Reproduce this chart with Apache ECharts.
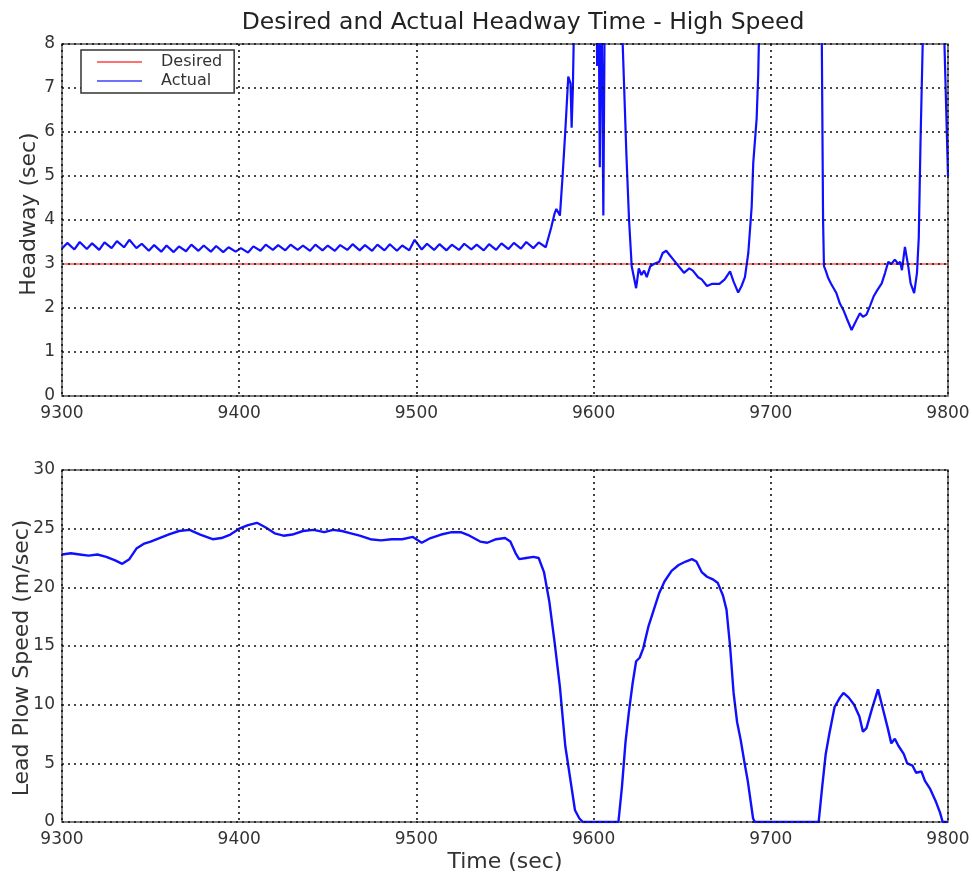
<!DOCTYPE html>
<html>
<head>
<meta charset="utf-8">
<title>Desired and Actual Headway Time - High Speed</title>
<script src="https://cdn.jsdelivr.net/npm/echarts@6/dist/echarts.min.js"></script>
<style>
  html, body { margin: 0; padding: 0; background: #fff; }
  #chart { width: 972px; height: 877px; }
</style>
</head>
<body>
<div id="chart"></div>
<script>
// time axis ticks (sec)
const timeTicks = [9300, 9400, 9500, 9600, 9700, 9800];

// desired headway (sec)
const desiredHeadway = [[9300, 3], [9800, 3]];

// actual headway [time, sec]; values above 8 run off the top of the plot
const actualHeadway = [
  [9300, 3.35], [9303, 3.48], [9307, 3.33], [9310, 3.50], [9314, 3.34], [9317, 3.47], [9321, 3.32], [9324, 3.49],
  [9328, 3.36], [9331, 3.52], [9335, 3.38], [9338, 3.55], [9342, 3.36], [9345, 3.46], [9349, 3.30], [9352, 3.43],
  [9356, 3.28], [9359, 3.42], [9363, 3.27], [9366, 3.40], [9370, 3.29], [9373, 3.44], [9377, 3.30], [9380, 3.42],
  [9384, 3.28], [9387, 3.41], [9391, 3.27], [9394, 3.38], [9398, 3.28], [9401, 3.36], [9405, 3.26], [9408, 3.40],
  [9412, 3.30], [9415, 3.44], [9419, 3.32], [9422, 3.43], [9426, 3.31], [9429, 3.44], [9433, 3.32], [9436, 3.42],
  [9440, 3.30], [9443, 3.44], [9447, 3.31], [9450, 3.42], [9454, 3.30], [9457, 3.43], [9461, 3.32], [9464, 3.45],
  [9468, 3.31], [9471, 3.43], [9475, 3.30], [9478, 3.44], [9482, 3.31], [9485, 3.45], [9489, 3.30], [9492, 3.42],
  [9496, 3.31], [9499, 3.55], [9503, 3.33], [9506, 3.46], [9510, 3.32], [9513, 3.45], [9517, 3.31], [9520, 3.44],
  [9524, 3.32], [9527, 3.46], [9531, 3.33], [9534, 3.44], [9538, 3.31], [9541, 3.45], [9545, 3.32], [9548, 3.47],
  [9552, 3.34], [9555, 3.48], [9559, 3.35], [9562, 3.50], [9566, 3.36], [9569, 3.49], [9573, 3.38],
  [9576, 3.82], [9578, 4.15], [9579, 4.25], [9581, 4.1], [9582.5, 5.0], [9584, 6.0], [9585.7, 7.26], [9587, 7.1],
  [9587.6, 6.1], [9588.3, 7.0], [9589, 8.6], [9590, 12], [9601, 12], [9602, 7.5], [9602.7, 10], [9603.5, 5.2],
  [9604.3, 10], [9605.5, 4.1], [9606.3, 9], [9607, 12], [9615, 12], [9616, 8.5], [9617, 7.3], [9618.5, 5.5],
  [9620, 4.0], [9621.5, 2.95], [9624, 2.45], [9625.5, 2.9], [9627, 2.75], [9628.5, 2.85], [9630, 2.7], [9632, 2.95],
  [9634, 3.0], [9637, 3.05], [9639, 3.25], [9641, 3.3], [9643, 3.2], [9645, 3.1], [9648, 2.95], [9651, 2.8],
  [9654, 2.9], [9656, 2.85], [9659, 2.7], [9661, 2.65], [9664, 2.5], [9667, 2.55], [9671, 2.55], [9674, 2.65],
  [9677, 2.83], [9679, 2.6], [9681.6, 2.35], [9683.5, 2.5], [9685.4, 2.7], [9687.3, 3.25], [9689.2, 4.3],
  [9690.1, 5.3], [9692, 6.3], [9692.9, 7.3], [9693.5, 8.5], [9694.5, 12], [9728, 12], [9728.8, 8], [9729.5, 4],
  [9730, 2.95], [9731, 2.85], [9732.4, 2.68], [9734, 2.55], [9737, 2.34], [9739, 2.1], [9741, 1.95], [9743, 1.75],
  [9745.6, 1.5], [9748, 1.7], [9750.3, 1.88], [9752, 1.8], [9754, 1.85], [9756, 2.05], [9758, 2.26], [9760, 2.4],
  [9762.6, 2.56], [9764.5, 2.8], [9766.3, 3.05], [9768, 3.0], [9770, 3.1], [9772, 3.0], [9773, 3.05], [9774, 2.86],
  [9775.7, 3.39], [9777.6, 2.94], [9778.9, 2.56], [9780.9, 2.34], [9782.5, 2.8], [9783.5, 3.6], [9784.5, 5.8],
  [9786, 8.5], [9787, 12], [9797, 12], [9798, 8], [9800, 5.0]
];

// lead plow speed [time, m/sec]
const leadPlowSpeed = [
  [9300, 22.8], [9305, 22.9], [9310, 22.8], [9315, 22.7], [9320, 22.8], [9325, 22.6], [9330, 22.3], [9334, 22.0],
  [9338, 22.4], [9342, 23.3], [9346, 23.7], [9350, 23.9], [9355, 24.2], [9360, 24.5], [9366, 24.8], [9372, 24.9],
  [9378, 24.5], [9385, 24.1], [9390, 24.2], [9395, 24.5], [9400, 25.0], [9405, 25.3], [9410, 25.5], [9415, 25.1],
  [9420, 24.6], [9425, 24.4], [9430, 24.5], [9436, 24.8], [9442, 24.9], [9448, 24.7], [9453, 24.9], [9458, 24.8],
  [9463, 24.6], [9468, 24.4], [9474, 24.1], [9480, 24.0], [9486, 24.1], [9492, 24.1], [9498, 24.3], [9503, 23.8],
  [9508, 24.2], [9514, 24.5], [9520, 24.7], [9525, 24.7], [9530, 24.4], [9536, 23.9], [9540, 23.8], [9545, 24.1],
  [9550, 24.2], [9553, 23.9], [9556, 22.9], [9558, 22.4], [9562, 22.5], [9566, 22.6], [9569, 22.5], [9572, 21.3],
  [9575, 18.8], [9578, 15.3], [9581, 11.5], [9584, 6.5], [9587, 3.5], [9589.5, 1.0], [9592, 0.3], [9594, 0],
  [9614, 0], [9616, 3.0], [9618, 6.8], [9620, 9.5], [9622, 11.8], [9624, 13.7], [9626, 14.0], [9628, 14.8],
  [9631, 16.7], [9634, 18.1], [9637, 19.5], [9640, 20.5], [9644, 21.4], [9648, 21.9], [9652, 22.2], [9655.5, 22.4],
  [9658, 22.2], [9661, 21.3], [9664, 20.9], [9667, 20.7], [9670, 20.4], [9673, 19.3], [9675, 18.1], [9677, 15],
  [9679, 11], [9681, 8.5], [9683, 7.0], [9685, 5.2], [9687, 3.5], [9690, 0.3], [9691, 0], [9727, 0],
  [9729, 3], [9731, 5.8], [9733, 7.5], [9736, 9.8], [9739, 10.6], [9741, 11.0], [9744, 10.6], [9747, 10.0],
  [9750, 9.0], [9752, 7.7], [9754, 8.0], [9757, 9.6], [9760.5, 11.3], [9763, 9.8], [9766, 8.0], [9768, 6.7],
  [9770, 7.1], [9772, 6.5], [9775, 5.8], [9777, 5.0], [9780, 4.8], [9782, 4.2], [9785, 4.3], [9787, 3.5],
  [9790, 2.8], [9793, 1.8], [9795.5, 0.8], [9797, 0], [9800, 0]
];

(function () {
  const FONT = 'DejaVu Sans';
  const GRID_LINE = { show: true, lineStyle: { color: '#111', width: 1.6, type: [2, 4] } };
  const plain = v => String(v);

  function timeAxis(gridIndex, named) {
    return {
      type: 'value', gridIndex,
      min: timeTicks[0], max: timeTicks[timeTicks.length - 1], interval: 100,
      z: 10,
      axisLine: { show: false }, axisTick: { show: false },
      axisLabel: { color: '#333', fontFamily: FONT, fontSize: 17, margin: 9, formatter: plain },
      splitLine: GRID_LINE,
      name: named ? 'Time (sec)' : '', nameLocation: 'middle', nameGap: 29,
      nameTextStyle: { color: '#333', fontFamily: FONT, fontSize: 22 }
    };
  }

  // pad nudges the rotated name along the axis
  function valueAxis(gridIndex, max, interval, name, gap, pad) {
    return {
      type: 'value', gridIndex, min: 0, max, interval,
      z: 10,
      axisLine: { show: false }, axisTick: { show: false },
      axisLabel: { color: '#333', fontFamily: FONT, fontSize: 17, margin: 7, formatter: plain },
      splitLine: GRID_LINE,
      name, nameLocation: 'middle', nameGap: gap, nameMoveOverlap: false,
      nameTextStyle: { color: '#333', fontFamily: FONT, fontSize: 22, padding: pad }
    };
  }

  const gridBase = {
    left: 62, right: 24, height: 352, show: true,
    borderColor: '#555', borderWidth: 1.5, backgroundColor: 'transparent',
    containLabel: false, outerBoundsMode: 'none'
  };

  const chart = echarts.init(document.getElementById('chart'));
  chart.setOption({
    animation: false,
    backgroundColor: '#fff',
    title: {
      text: 'Desired and Actual Headway Time - High Speed',
      left: 518, top: 6, textAlign: 'center',
      textStyle: { color: '#222', fontFamily: FONT, fontSize: 23.5, fontWeight: 'normal' }
    },
    legend: {
      orient: 'vertical', left: 81, top: 50,
      data: [
        { name: 'Desired', itemStyle: { color: '#ff7070' } },
        { name: 'Actual', itemStyle: { color: '#7070ff' } }
      ],
      icon: 'rect', itemWidth: 45, itemHeight: 2, itemGap: 3,
      padding: [4, 12, 4, 16],
      backgroundColor: '#fff', borderColor: '#333', borderWidth: 1.5, borderRadius: 0,
      textStyle: { color: '#333', fontFamily: FONT, fontSize: 16, padding: [0, 0, 0, 14] },
      z: 20
    },
    grid: [
      Object.assign({}, gridBase, { top: 44 }),
      Object.assign({}, gridBase, { top: 470 })
    ],
    xAxis: [timeAxis(0, false), timeAxis(1, true)],
    yAxis: [
      valueAxis(0, 8, 1, 'Headway (sec)', 22, [0, 0, 0, 12]),
      valueAxis(1, 30, 5, 'Lead Plow Speed (m/sec)', 29, [0, 24, 0, 0])
    ],
    series: [
      {
        name: 'Desired', type: 'line', xAxisIndex: 0, yAxisIndex: 0,
        data: desiredHeadway, showSymbol: false, symbol: 'none',
        lineStyle: { color: '#ff0000', width: 1 }, itemStyle: { color: '#ff0000' }
      },
      {
        name: 'Actual', type: 'line', xAxisIndex: 0, yAxisIndex: 0,
        data: actualHeadway, showSymbol: false, symbol: 'none', clip: true,
        lineStyle: { color: '#1010ff', width: 2.2 }, itemStyle: { color: '#1010ff' }
      },
      {
        name: 'Speed', type: 'line', xAxisIndex: 1, yAxisIndex: 1,
        data: leadPlowSpeed, showSymbol: false, symbol: 'none', clip: true,
        lineStyle: { color: '#1010ff', width: 2.4 }, itemStyle: { color: '#1010ff' }
      }
    ]
  });
})();
</script>
</body>
</html>
